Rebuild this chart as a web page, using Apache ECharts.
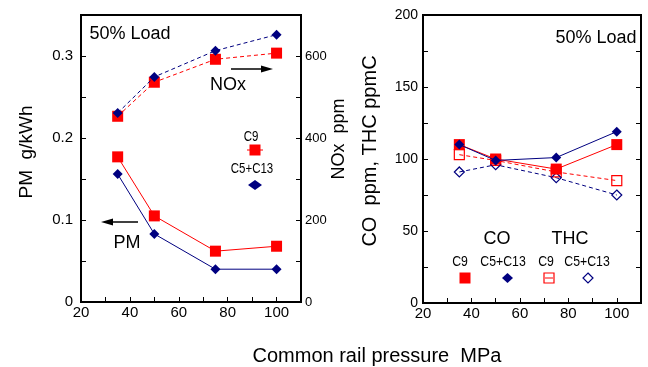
<!DOCTYPE html>
<html>
<head>
<meta charset="utf-8">
<script src="https://cdn.jsdelivr.net/npm/echarts@6/dist/echarts.min.js"></script>
<style>
  html, body { margin: 0; padding: 0; background: #fff; }
  #chart { width: 648px; height: 367px; }
</style>
</head>
<body>
<div id="chart"></div>
<script>
// common rail pressure, MPa
const pressure = [35, 50, 75, 100];
// PM g/kWh (left axis)
const pmC9 = [0.177, 0.105, 0.062, 0.068];
const pmC5C13 = [0.156, 0.083, 0.040, 0.040];
// NOx ppm (right axis of left plot)
const noxC9 = [453, 536, 592, 607];
const noxC5C13 = [461, 549, 613, 652];
// CO ppm and THC ppmC (right plot)
const coC9 = [110, 100, 93, 110];
const coC5C13 = [110, 99, 101, 119];
const thcC9 = [103, 99, 91, 85];
const thcC5C13 = [91, 96, 87, 75];

const RED = '#ff0000';
const NAVY = '#000080';
const FONT = '"Liberation Sans", Arial, sans-serif';

const chart = echarts.init(document.getElementById('chart'));

function pairs(ys) {
    return pressure.map((p, i) => [p, ys[i]]);
}

function xAxisFor(idx) {
    return {
        type: 'value', gridIndex: idx, min: 20, max: 110, interval: 10,
        axisLine: { show: true, lineStyle: { color: '#000', width: 2 } },
        axisTick: { show: true, inside: true, length: 5, lineStyle: { color: '#000', width: 1 } },
        axisLabel: {
            margin: 3, color: '#000', fontSize: 15, fontFamily: FONT,
            formatter: v => (v % 20 === 0 && v <= 100) ? String(v) : ''
        },
        splitLine: { show: false }
    };
}

function yAxisFor(idx, opts) {
    return Object.assign({
        type: 'value', gridIndex: idx,
        axisLine: { show: true, lineStyle: { color: '#000', width: 2 } },
        axisTick: { show: true, inside: true, length: 5, lineStyle: { color: '#000', width: 1 } },
        splitLine: { show: false }
    }, opts);
}

function lineSeries(x, y, data, color, symbol, size, dashed, hollow, z) {
    return {
        type: 'line', xAxisIndex: x, yAxisIndex: y, data: data,
        symbol: symbol, symbolSize: size, z: z,
        lineStyle: { color: color, width: 1, type: dashed ? [4, 3] : 'solid' },
        itemStyle: hollow
            ? { color: 'rgba(0,0,0,0)', borderColor: color, borderWidth: 1.2 }
            : { color: color, borderWidth: 0 },
        emphasis: { disabled: true }
    };
}

function txt(x, y, text, size, rot, narrow) {
    return {
        type: 'text', x: x, y: y, rotation: rot || 0, scaleX: narrow ? 0.82 : 1, silent: true,
        style: { text: text, fontSize: size, fontFamily: FONT, fill: '#000',
                 align: 'center', verticalAlign: 'middle' }
    };
}

function arrow(x1, x2, y) {
    const dir = x2 > x1 ? 1 : -1;
    const base = x2 - dir * 12;
    return [
        { type: 'line', silent: true, shape: { x1: x1, y1: y, x2: base, y2: y },
          style: { stroke: '#000', lineWidth: 1.5 } },
        { type: 'polygon', silent: true,
          shape: { points: [[x2, y], [base, y - 3.5], [base, y + 3.5]] },
          style: { fill: '#000' } }
    ];
}

function rectIcon(cx, cy, s, fill, stroke) {
    return { type: 'rect', silent: true, shape: { x: cx - s / 2, y: cy - s / 2, width: s, height: s },
             style: fill ? { fill: fill } : { fill: 'none', stroke: stroke, lineWidth: 1.2 } };
}

function diamondIcon(cx, cy, w, h, fill, stroke) {
    return { type: 'polygon', silent: true,
             shape: { points: [[cx, cy - h / 2], [cx + w / 2, cy], [cx, cy + h / 2], [cx - w / 2, cy]] },
             style: fill ? { fill: fill } : { fill: 'none', stroke: stroke, lineWidth: 1.2 } };
}

function shortLine(cx, cy, half, color) {
    return { type: 'line', silent: true, shape: { x1: cx - half, y1: cy, x2: cx + half, y2: cy },
             style: { stroke: color, lineWidth: 1 } };
}

chart.setOption({
    animation: false,
    backgroundColor: '#fff',
    grid: [
        { left: 81, top: 15, width: 220, height: 287, show: true, borderColor: '#000', borderWidth: 2, backgroundColor: 'transparent' },
        { left: 423, top: 15, width: 218, height: 288, show: true, borderColor: '#000', borderWidth: 2, backgroundColor: 'transparent' }
    ],
    xAxis: [xAxisFor(0), xAxisFor(1)],
    yAxis: [
        yAxisFor(0, {
            position: 'left', min: 0, max: 0.35, interval: 0.05,
            axisLabel: {
                margin: 8, color: '#000', fontSize: 15, fontFamily: FONT,
                formatter: v => {
                    const k = Math.round(v * 100);
                    return k % 10 === 0 ? (k === 0 ? '0' : (k / 100).toFixed(1)) : '';
                }
            }
        }),
        yAxisFor(0, {
            position: 'right', min: 0, max: 700, interval: 100,
            axisLabel: {
                margin: 4, color: '#000', fontSize: 13, fontFamily: FONT,
                formatter: v => (v % 200 === 0 ? String(v) : '')
            }
        }),
        yAxisFor(1, {
            position: 'left', min: 0, max: 200, interval: 25,
            axisLabel: {
                margin: 5, color: '#000', fontSize: 14, fontFamily: FONT,
                formatter: v => (v % 50 === 0 ? String(v) : '')
            }
        }),
        yAxisFor(1, {
            position: 'right', min: 0, max: 200, interval: 25,
            axisLabel: { show: false }
        })
    ],
    series: [
        lineSeries(0, 1, pairs(noxC9), RED, 'rect', 11, true, false, 2),
        lineSeries(0, 1, pairs(noxC5C13), NAVY, 'diamond', 10, true, false, 3),
        lineSeries(0, 0, pairs(pmC9), RED, 'rect', 11, false, false, 2),
        lineSeries(0, 0, pairs(pmC5C13), NAVY, 'diamond', 10, false, false, 3),
        lineSeries(1, 2, pairs(thcC9), RED, 'rect', 10, true, true, 2),
        lineSeries(1, 2, pairs(thcC5C13), NAVY, 'diamond', 10, true, true, 2),
        lineSeries(1, 2, pairs(coC9), RED, 'rect', 11, false, false, 3),
        lineSeries(1, 2, pairs(coC5C13), NAVY, 'diamond', 10, false, false, 4)
    ],
    graphic: [
        // axis titles
        txt(27, 152, 'PM  g/kWh', 19, Math.PI / 2),
        txt(339, 139, 'NOx  ppm', 18, Math.PI / 2),
        txt(370, 151, 'CO  ppm, THC ppmC', 20, Math.PI / 2),
        txt(377, 356, 'Common rail pressure  MPa', 20),
        // left plot annotations
        txt(130, 34, '50% Load', 18),
        txt(228, 85, 'NOx', 18),
        txt(127, 243, 'PM', 18),
        ...arrow(231, 273, 69),
        ...arrow(138, 101, 222),
        txt(251, 137, 'C9', 14, 0, true),
        shortLine(255, 150, 8, RED),
        rectIcon(255, 150, 11, RED),
        txt(252, 169, 'C5+C13', 14, 0, true),
        diamondIcon(255, 185, 14, 10, NAVY),
        // right plot annotations
        txt(596, 38, '50% Load', 18),
        txt(497, 239, 'CO', 18),
        txt(570, 239, 'THC', 18),
        txt(460, 262, 'C9', 15, 0, true),
        txt(503, 262, 'C5+C13', 15, 0, true),
        txt(546, 262, 'C9', 15, 0, true),
        txt(587, 262, 'C5+C13', 15, 0, true),
        rectIcon(465, 278, 11, RED),
        diamondIcon(507.5, 278, 11, 10, NAVY),
        shortLine(549, 278, 4, RED),
        rectIcon(549, 278, 10, null, RED),
        diamondIcon(588, 278, 10, 10, null, NAVY)
    ]
});
</script>
</body>
</html>
